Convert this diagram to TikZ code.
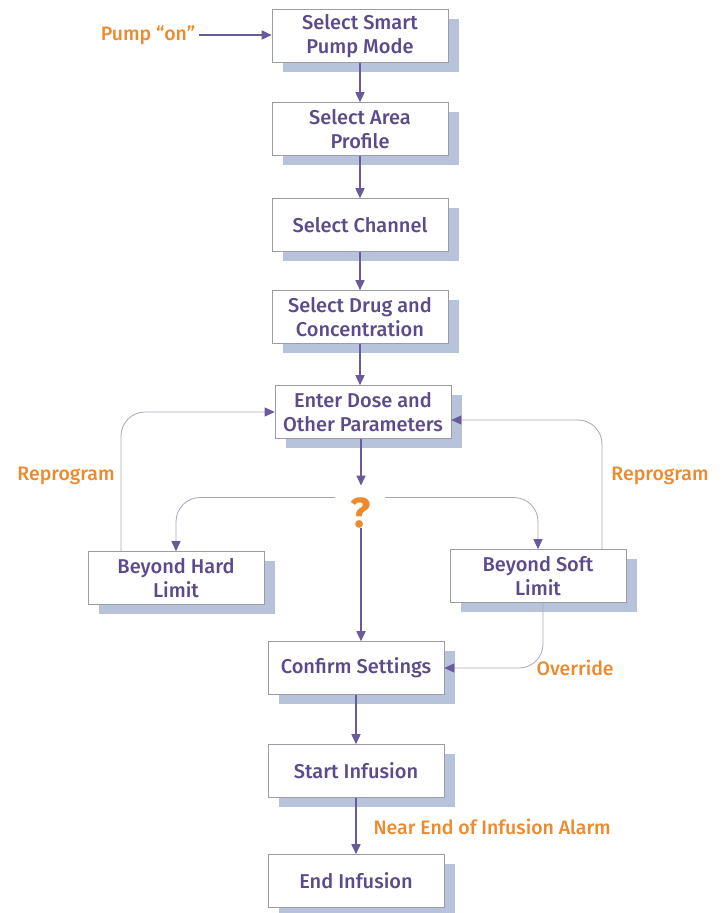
\documentclass[tikz,border=0pt]{standalone}
\usepackage{fontspec}
\setmainfont{Fira Sans}[UprightFont={* Medium}, BoldFont={* Bold}]
\usetikzlibrary{arrows.meta,shadows}

\definecolor{textpurple}{HTML}{5C4A8A}
\definecolor{arrowpurple}{HTML}{6A5A9C}
\definecolor{loopgray}{HTML}{A9A6BC}
\definecolor{boxgray}{HTML}{9C9CA4}
\definecolor{shadowblue}{HTML}{B7C2DB}
\definecolor{noteorange}{HTML}{EE8A2E}

\begin{document}
\begin{tikzpicture}[
    x = 1pt,
    y = -1pt,
    >={Triangle[length=10pt,width=9pt]},
    step_box/.style = {rectangle, draw=boxgray, line width=0.6pt, fill=white,
              minimum width=176pt, minimum height=53pt, align=center,
              text=textpurple, inner sep=2pt,
              font=\fontsize{20}{24}\selectfont,
              drop shadow={shadow xshift=11pt, shadow yshift=-9pt,
                           fill=shadowblue, opacity=1}},
    flow_line/.style = {->, draw=arrowpurple, fill=arrowpurple, line width=1.6pt},
    loop_line/.style = {-{Triangle[length=10pt,width=9pt,fill=arrowpurple,color=arrowpurple]},
              draw=loopgray, line width=0.8pt, rounded corners=24pt},
    note/.style = {text=noteorange, font=\fontsize{19.5}{22}\selectfont},
    ]

\useasboundingbox (0,0) rectangle (722,913);

% main column
\node[step_box] (pump_mode) at (360,36){Select Smart\\Pump Mode};
\node[step_box] (area_profile) at (360,129){Select Area\\Profile};
\node[step_box] (channel) at (360,225){Select Channel};
\node[step_box] (drug_conc) at (360,317){Select Drug and\\Concentration};
\node[step_box] (dose) at (363,412){Enter Dose and\\Other Parameters};
\node[text=noteorange, font=\fontsize{42}{42}\selectfont\bfseries, inner sep=0pt]
    (query) at (361,513){?};
\node[step_box] (hard_limit) at (176,578){Beyond Hard\\Limit};
\node[step_box] (soft_limit) at (538,576){Beyond Soft\\Limit};
\node[step_box] (confirm) at (356,668){Confirm Settings};
\node[step_box] (start_inf) at (356,771){Start Infusion};
\node[step_box] (end_inf) at (356,881){End Infusion};

% labels
\node[note] (pump_on) at (148,35){Pump “on”};
\node[note] (reprog_left) at (66,476){Reprogram};
\node[note] (reprog_right) at (660,476){Reprogram};
\node[note, anchor=west] (override) at (533,668){Override};
\node[note, anchor=west] (alarm) at (370,827){Near End of Infusion Alarm};

% flow
\draw[flow_line] (pump_on.east) -- (pump_on.east -| pump_mode.west);
\draw[flow_line] (pump_mode) -- (area_profile);
\draw[flow_line] (area_profile) -- (channel);
\draw[flow_line] (channel) -- (drug_conc);
\draw[flow_line] (drug_conc) -- (drug_conc |- dose.north);
\draw[flow_line] (dose.south -| query) -- ([yshift=12pt]query.north);
\draw[flow_line] (query.south) -- (query.south |- confirm.north);
\draw[flow_line] (confirm) -- (start_inf);
\draw[flow_line] (start_inf) -- (end_inf);

% branches and loops
\draw[loop_line] ([xshift=-26pt]query.north) -| (hard_limit.north);
\draw[loop_line] ([xshift=24pt]query.north) -| (soft_limit.north);
\draw[loop_line] ([xshift=-55pt]hard_limit.north) |- (dose.west);
\draw[loop_line] ([xshift=64pt]soft_limit.north) |- ([yshift=-8pt]dose.east);
\draw[loop_line] ([xshift=5pt]soft_limit.south) |- (confirm.east);

\end{tikzpicture}
\end{document}
